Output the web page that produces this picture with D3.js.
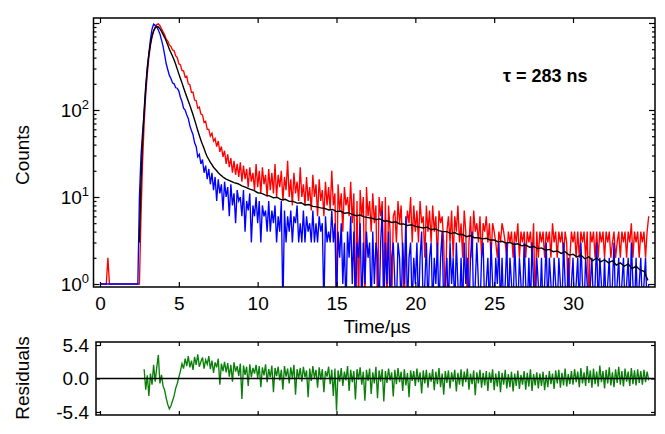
<!DOCTYPE html>
<html><head><meta charset="utf-8">
<script src="https://cdn.jsdelivr.net/npm/d3@7"></script>
<style>
body{margin:0;background:#fff}
svg{display:block}
text{font-family:"Liberation Sans",Arial,sans-serif;fill:#000}
</style>
</head><body>
<svg id="chart" width="665" height="434"></svg>
<script>
// ---------------- DATA ----------------
// Time grid for the two decays: t = 0.0, 0.1, ... µs
const decayStart = 0, decayStep = 0.1;
const redCounts = [
1,1,1,1,1,2,1,1,1,1,
1,1,1,1,1,1,1,1,1,1,
1,1,1,1,1,1,6,25,70,150,
260,400,550,690,810,900,960,980,930,860,
790,730,650,620,560,540,490,480,420,400,
340,330,285,280,240,245,200,195,160,160,
130,128,105,108,90,88,72,74,60,60,
50,54,44,47,38,44,33,38,29,34,
24,31,22,28,19,26,18,24,17,25,
15,23,16,21,13,22,15,19,12,24,
13,20,11,22,14,18,10,21,12,19,
11,24,10,18,13,20,9,17,12,26,
10,16,8,19,11,15,9,22,10,14,
8,17,9,13,7,18,10,14,6,16,
9,12,6,15,8,13,7,20,8,11,
0,14,7,11,4,13,8,10,6,15,
5,11,0,9,0,12,6,10,0,13,
6,9,4,11,5,8,0,10,6,9,
0,10,0,8,4,0,6,7,3,9,
5,8,2,0,4,7,5,10,3,8,
4,7,3,9,5,6,2,8,4,7,
3,8,4,6,2,7,5,6,3,0,
4,6,3,7,2,6,4,8,3,5,
2,7,4,0,3,6,2,7,4,5,
3,6,2,5,4,6,3,5,2,5,
4,3,2,4,3,5,4,3,2,4,
3,4,2,4,3,5,2,4,3,4,
2,4,3,4,2,5,0,4,2,4,
3,4,2,4,3,4,2,5,3,4,
2,4,3,4,2,4,3,0,2,4,
3,4,2,4,2,4,3,4,2,4,
0,4,3,4,2,4,2,4,3,4,
2,4,3,4,2,3,4,2,3,4,
2,4,3,4,2,4,3,5,2,4,
3,4,2,4,3,4,2,4,6
];
const blueCounts = [
1,1,1,1,1,1,1,1,1,1,
1,1,1,1,1,1,1,1,1,1,
1,1,1,1,1,10,30,55,90,170,
290,450,650,850,970,940,900,830,750,640,
540,430,340,290,250,230,205,200,180,178,
165,140,125,105,100,88,80,66,58,52,
42,38,29,31,24,27,19,23,16,21,
14,19,12,17,9,16,11,14,7,15,
10,13,6,14,8,11,5,12,9,10,
6,12,4,9,7,11,3,8,6,10,
5,9,3,8,6,7,4,9,4,7,
5,8,3,6,4,9,0,7,3,6,
4,7,3,6,5,8,3,5,3,7,
3,6,4,5,3,7,3,5,3,6,
4,5,0,6,3,4,3,7,3,5,
0,4,2,5,1,3,0,4,2,6,
1,4,0,3,2,5,0,3,1,4,
2,3,0,4,1,3,2,0,3,7,
0,3,1,4,0,2,3,1,0,3,
2,0,3,1,6,0,2,3,0,2,
1,3,0,2,4,0,1,3,0,2,
3,0,2,1,3,0,2,4,0,1,
2,0,3,1,2,0,3,1,0,2,
0,3,1,2,0,2,4,0,1,3,
1,0,2,3,0,1,2,0,3,1,
0,2,1,3,0,2,0,1,3,0,
2,1,0,3,1,0,2,1,0,3,
1,0,2,0,3,1,0,2,1,0,
2,0,1,3,0,2,1,0,2,1,
0,2,1,0,3,1,0,2,0,1,
2,0,1,2,0,3,1,0,2,1,
0,1,2,0,1,3,0,2,1,0,
2,0,1,2,0,1,3,0,1,2,
0,1,2,0,1,2,0,3,1,0,
2,0,1,2,0,1,2,0,1
];
// Fit curve: first part t = 2.5 + 0.1*i, second part t = 8.25 + 0.25*i
const fitEarlyStart = 2.5, fitEarlyStep = 0.1;
const fitEarly = [3,15,45,100,190,310,440,580,710,810,880,910,900,860,800,740,680,620,560,500,
455,415,375,335,295,260,230,205,180,160,142,127,113,100,88,77,67,58,51,45,
40,36,32,29,27,25,23.5,22,21,20,19,18.3,17.6,17,16.5,16];
const fitLateStart = 8.25, fitLateStep = 0.25;
const fitLate = [15.3,14.6,14.2,13.4,12.9,12.3,11.9,11.2,11.0,10.5,10.3,9.8,9.9,9.3,9.4,8.9,8.9,8.5,8.6,8.1,
8.2,7.8,7.7,7.5,7.4,7.1,7.2,6.8,6.9,6.5,6.6,6.3,6.1,6.2,5.9,5.8,5.7,5.5,5.6,5.3,
5.3,5.1,5.2,4.9,4.9,4.7,4.8,4.6,4.5,4.4,4.5,4.2,4.3,4.1,4.0,4.0,3.8,3.9,3.7,3.7,
3.5,3.6,3.4,3.4,3.3,3.35,3.2,3.2,3.05,3.1,2.95,3.0,2.85,2.9,2.75,2.8,2.65,2.7,2.55,2.6,
2.45,2.5,2.35,2.4,2.25,2.35,2.15,2.2,2.05,2.15,1.95,2.05,1.85,2.0,1.8,1.9,1.75,1.85,1.65,1.75,
1.6,1.7,1.5,1.6,1.45,1.4,1.1];
// Residuals: t = 2.8 + 0.1*i
const resStart = 2.8, resStep = 0.1;
const residuals = [
1.5,-1.8,
0.5,-2.8,0.8,-1.0,2.2,-0.5,1.8,3.8,-0.8,0.6,
-1.2,-1.9,-3.2,-4.2,-4.9,-4.4,-3.6,-2.8,-1.6,-0.8,
0.2,1.2,2.4,1.6,3.2,2.0,3.6,1.8,2.9,1.4,
3.5,2.2,3.9,1.9,2.7,3.4,1.6,3.0,2.3,3.6,
1.5,2.9,0.9,2.6,1.8,3.2,-1.0,2.4,1.2,2.7,
1.0,2.5,0.3,2.2,-0.5,2.6,1.1,2.0,0.4,2.4,
-3.3,2.1,0.6,1.9,-1.2,2.3,0.2,1.7,0.8,2.2,
0.1,2.0,-1.4,1.8,0.5,2.3,-0.6,1.5,0.2,2.1,
-2.2,1.7,0.4,1.9,-0.3,1.4,-1.8,2.0,0.3,1.6,
-0.8,1.8,0.1,2.2,-2.6,1.5,0.0,1.7,-0.5,1.9,
0.2,1.3,-3.0,1.6,-0.4,2.0,0.1,1.4,-1.5,1.8,
-0.2,1.5,-2.2,1.2,0.3,1.9,-0.9,1.4,-2.8,1.6,
-5.2,1.3,-0.5,1.7,-1.2,1.1,-0.3,2.0,-2.0,1.4,
-0.6,1.2,-3.4,1.5,-0.2,1.8,-1.0,1.1,-3.6,1.4,
-0.4,1.6,-2.5,1.0,-0.8,1.9,-3.2,1.3,-0.5,1.5,
-3.7,1.2,-0.7,1.6,-0.3,1.0,-2.9,1.4,-0.9,1.7,
-0.6,1.1,-2.0,1.5,-1.1,0.9,-3.0,1.3,-0.4,1.2,
-1.2,1.6,-0.6,1.0,-2.4,1.3,-0.8,1.4,-1.5,0.9,
-0.5,1.5,-1.9,1.1,-0.9,1.7,-1.4,0.8,-2.6,1.2,
-0.7,1.3,-1.6,1.0,-0.5,1.4,-2.1,0.9,-1.0,1.5,
-1.3,1.1,-0.6,1.6,-1.8,0.8,-0.9,1.3,-2.7,1.0,
-0.8,1.4,-1.5,0.9,-1.1,1.2,-2.0,1.0,-0.7,1.5,
-1.9,0.8,-1.3,1.2,-2.2,0.9,-1.0,1.4,-1.6,0.7,
-1.4,1.1,-2.1,0.8,-1.2,1.3,-1.7,0.6,-1.0,1.2,
-1.8,0.9,-1.3,1.5,-2.0,0.7,-1.1,1.0,-1.6,0.8,
-1.2,1.1,-1.9,0.6,-1.4,1.2,-0.9,0.8,-1.7,1.3,
-0.8,1.4,-1.5,0.9,-1.1,1.6,-1.3,0.7,-0.9,1.2,
-1.0,1.5,-0.6,1.1,-1.4,1.7,-0.8,1.0,-1.2,2.0,
-0.7,1.3,-1.5,1.6,-0.9,1.1,-1.3,2.1,-0.6,1.2,
-1.6,1.4,-0.8,1.8,-1.1,1.0,-1.4,1.5,-0.7,1.9,
-1.0,1.2,-1.3,1.6,-0.5,1.1,-1.2,1.7,-0.9,1.3,
-1.1,1.5,-0.7,1.2,-1.0,1.4,-0.6,1.1,-0.3
];
const xTickValues = [0,5,10,15,20,25,30];
const yMajorTicks = [1,10,100,1000];
const yLabelExps = [0,1,2];
const resTickValues = [5.4,0,-5.4];
const resTickLabels = ["5.4","0.0","-5.4"];
const xTitle = "Time/µs", yTitle = "Counts", resTitle = "Residuals";
const tauText = "τ = 283 ns";

// ---------------- LAYOUT ----------------
const svg = d3.select("#chart");
const M = {l:93.5, r:655, t:18, b:287};
const R = {l:96, r:655, t:342, b:415};
const x = d3.scaleLinear().domain([(93.5-100)/15.767, (655-100)/15.767]).range([M.l, M.r]);
const y = d3.scaleLog().domain([Math.pow(10,-0.0345), Math.pow(10,3.0575)]).range([M.b, M.t]);
const yr = d3.scaleLinear().domain([-5.89,5.89]).range([R.b, R.t]);

const series = (arr, t0, dt) => arr.map((v,i)=>({t:t0+i*dt, v}));
const red = series(redCounts, decayStart, decayStep);
const blue = series(blueCounts, decayStart, decayStep);
const fit = series(fitEarly, fitEarlyStart, fitEarlyStep).concat(series(fitLate, fitLateStart, fitLateStep));
const res = series(residuals, resStart, resStep);

const defs = svg.append("defs");
defs.append("clipPath").attr("id","clipM").append("rect")
  .attr("x",M.l).attr("y",M.t).attr("width",M.r-M.l).attr("height",M.b-M.t);
defs.append("clipPath").attr("id","clipR").append("rect")
  .attr("x",R.l).attr("y",R.t).attr("width",R.r-R.l).attr("height",R.b-R.t);

const lineLog = d3.line().x(d=>x(d.t)).y(d=>y(Math.max(d.v,0.5)));
const gM = svg.append("g").attr("clip-path","url(#clipM)");
gM.append("path").datum(red).attr("d",lineLog).attr("fill","none").attr("stroke","#ff0000").attr("stroke-width",1.35);
gM.append("path").datum(blue).attr("d",lineLog).attr("fill","none").attr("stroke","#0000ff").attr("stroke-width",1.35);
gM.append("path").datum(fit).attr("d",lineLog).attr("fill","none").attr("stroke","#000").attr("stroke-width",1.4);

// main axes (inward ticks)
const minor = [];
[1,10,100].forEach(d=>{for(let k=2;k<=9;k++) minor.push(d*k);});
function styleAxis(g){g.select(".domain").remove(); g.selectAll("line").attr("stroke","#000").attr("stroke-width",1.2);}
svg.append("g").attr("transform",`translate(0,${M.b})`)
  .call(d3.axisBottom(x).tickValues(xTickValues).tickSize(-5).tickPadding(10).tickFormat(d3.format("d")))
  .call(styleAxis)
  .selectAll("text").attr("font-size",19).attr("font-family","Liberation Sans, Arial, sans-serif");
svg.append("g").attr("transform",`translate(0,${M.t})`)
  .call(d3.axisTop(x).tickValues(xTickValues).tickSize(-5).tickFormat("")).call(styleAxis);
[[d3.axisLeft, M.l],[d3.axisRight, M.r]].forEach(([ax,px])=>{
  svg.append("g").attr("transform",`translate(${px},0)`)
    .call(ax(y).tickValues(yMajorTicks).tickSize(-6).tickFormat("")).call(styleAxis);
  svg.append("g").attr("transform",`translate(${px},0)`)
    .call(ax(y).tickValues(minor).tickSize(-3).tickFormat("")).call(styleAxis);
});
// log labels 10^n
yLabelExps.forEach(e=>{
  const t = svg.append("text").attr("x",89).attr("y",y(Math.pow(10,e))+7)
    .attr("text-anchor","end").attr("font-size",19);
  t.append("tspan").text("10");
  t.append("tspan").attr("dy",-8).attr("font-size",13).text(e);
});
svg.append("rect").attr("x",M.l).attr("y",M.t).attr("width",M.r-M.l).attr("height",M.b-M.t)
  .attr("fill","none").attr("stroke","#000").attr("stroke-width",1.5);

svg.append("text").attr("x",377).attr("y",333).attr("text-anchor","middle").attr("font-size",19).text(xTitle);
svg.append("text").attr("transform",`translate(29,155) rotate(-90)`).attr("text-anchor","middle").attr("font-size",19).text(yTitle);
svg.append("text").attr("x",503).attr("y",82).attr("font-family","Lato, 'Open Sans', sans-serif")
  .attr("font-weight","bold").attr("font-size",18).text(tauText);

// residual panel
const gR = svg.append("g").attr("clip-path","url(#clipR)");
gR.append("path").datum(res).attr("d",d3.line().x(d=>x(d.t)).y(d=>yr(d.v)))
  .attr("fill","none").attr("stroke","#0a800a").attr("stroke-width",1.35);
svg.append("line").attr("x1",R.l).attr("x2",R.r).attr("y1",yr(0)).attr("y2",yr(0)).attr("stroke","#000").attr("stroke-width",1.3);
svg.append("g").attr("transform",`translate(0,${R.b})`)
  .call(d3.axisBottom(x).tickValues(xTickValues).tickSize(-4).tickFormat("")).call(styleAxis);
svg.append("g").attr("transform",`translate(0,${R.t})`)
  .call(d3.axisTop(x).tickValues(xTickValues).tickSize(-4).tickFormat("")).call(styleAxis);
svg.append("g").attr("transform",`translate(${R.l},0)`)
  .call(d3.axisLeft(yr).tickValues(resTickValues).tickSize(-4).tickPadding(7).tickFormat((d,i)=>resTickLabels[i]))
  .call(styleAxis).selectAll("text").attr("font-size",19).attr("font-family","Liberation Sans, Arial, sans-serif");
svg.append("g").attr("transform",`translate(${R.r},0)`)
  .call(d3.axisRight(yr).tickValues(resTickValues).tickSize(-4).tickFormat("")).call(styleAxis);
svg.append("rect").attr("x",R.l).attr("y",R.t).attr("width",R.r-R.l).attr("height",R.b-R.t)
  .attr("fill","none").attr("stroke","#000").attr("stroke-width",1.5);
svg.append("text").attr("transform",`translate(29,378) rotate(-90)`).attr("text-anchor","middle").attr("font-size",19).text(resTitle);
</script>
</body></html>
